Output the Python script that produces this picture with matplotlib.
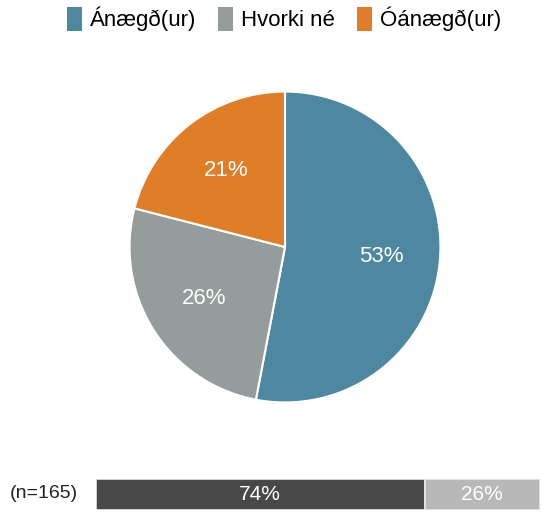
import matplotlib
matplotlib.use("Agg")
import matplotlib.pyplot as plt
from matplotlib.patches import Patch

plt.rcParams['font.family'] = ['Liberation Sans', 'DejaVu Sans']

categories = ["Ánægð(ur)", "Hvorki né", "Óánægð(ur)"]
values = [53, 26, 21]
colors = ["#4E87A0", "#949C9C", "#E07E28"]

bar_labels = ["74%", "26%"]
bar_values = [74, 26]
bar_colors = ["#484848", "#B8B8B8"]
bar_text_colors = ["#FFFFFF", "#FFFFFF"]
n_label = "(n=165)"

W, H = 541, 513
fig = plt.figure(figsize=(W / 100, H / 100), dpi=100)

# Pie
cx, cy, r = 285, 247, 157
ax = fig.add_axes([(cx - r) / W, (H - cy - r) / H, 2 * r / W, 2 * r / H])
wedges, texts = ax.pie(values, colors=colors, startangle=90, counterclock=False,
                       labels=[f"{v}%" for v in values], labeldistance=0.62,
                       wedgeprops=dict(edgecolor="white", linewidth=1.5),
                       textprops=dict(color="white", fontsize=16))
for t in texts:
    t.set_ha("center")
    t.set_va("center")
ax.set_xlim(-1.01, 1.01)
ax.set_ylim(-1.01, 1.01)
ax.set_aspect("equal")
ax.axis("off")

# Legend
handles = [Patch(facecolor=c, edgecolor="none") for c in colors]
fig.legend(handles, categories, loc="center", bbox_to_anchor=(284 / W, 1 - 19 / H),
           ncol=3, frameon=False, fontsize=16, handlelength=0.68, handleheight=1.3,
           handletextpad=0.35, columnspacing=1.0, borderaxespad=0, borderpad=0)

# Bottom bar
bx0, bx1, by0, by1 = 96, 540, 479, 510
bax = fig.add_axes([bx0 / W, (H - by1) / H, (bx1 - bx0) / W, (by1 - by0) / H])
left = 0
for v, c, lab, tc in zip(bar_values, bar_colors, bar_labels, bar_text_colors):
    bax.barh(0, v, left=left, height=1, color=c, edgecolor="#E8E8E8", linewidth=1.2)
    bax.text(left + v / 2, 0, lab, ha="center", va="center", color=tc, fontsize=15)
    left += v
bax.set_xlim(0, sum(bar_values))
bax.set_ylim(-0.5, 0.5)
bax.axis("off")
fig.text(10 / W, 1 - 494 / H, n_label, ha="left", va="center", fontsize=14, color="#222222")

fig.savefig("out.png", dpi=100, facecolor="white")
